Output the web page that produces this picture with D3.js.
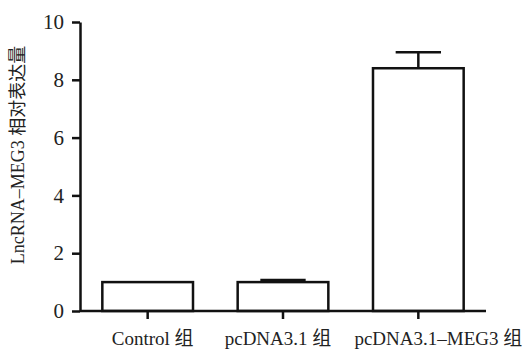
<!DOCTYPE html>
<html>
  <head>
    <meta charset="utf-8">
    <script type="text/javascript" src="https://cdn.jsdelivr.net/npm/d3@7"></script>
    <style>
      body { margin: 0; background: #fff; }
      text { font-family: "Liberation Serif", "Noto Sans CJK SC", serif; fill: #222; }
    </style>
  </head>
  <body>
    <div id="viz"></div>
    <script type="text/javascript">
      const groups = ["Control 组", "pcDNA3.1 组", "pcDNA3.1–MEG3 组"];
      const means = [1.0, 1.0, 8.4];
      const errors = [0, 0.07, 0.55];
      const yTicks = [0, 2, 4, 6, 8, 10];
      const yTitle = "LncRNA–MEG3 相对表达量";

      const width = 525;
      const height = 349;

      const svg = d3.select("#viz")
        .append("svg")
        .attr("width", width)
        .attr("height", height);

      const x = d3.scaleBand()
        .domain(groups)
        .range([80, 486])
        .paddingInner(0.33)
        .paddingOuter(0.165);

      const y = d3.scaleLinear()
        .domain([0, 10])
        .range([311, 22]);

      // bars
      svg.selectAll("rect.bar")
        .data(groups)
        .enter()
        .append("rect")
        .attr("class", "bar")
        .attr("x", d => x(d))
        .attr("y", (d, i) => y(means[i]))
        .attr("width", x.bandwidth())
        .attr("height", (d, i) => y(0) - y(means[i]))
        .style("fill", "#fff")
        .style("stroke", "#111")
        .style("stroke-width", 2.5);

      // error bars (upper only)
      const errTop = d => means[groups.indexOf(d)] + errors[groups.indexOf(d)];
      const err = svg.selectAll("g.err")
        .data(groups.filter((d, i) => errors[i] > 0))
        .enter()
        .append("g")
        .attr("class", "err");

      err.append("line")
        .attr("x1", d => x(d) + x.bandwidth() / 2)
        .attr("x2", d => x(d) + x.bandwidth() / 2)
        .attr("y1", d => y(means[groups.indexOf(d)]))
        .attr("y2", d => y(errTop(d)))
        .style("stroke", "#111")
        .style("stroke-width", 2.5);

      err.append("line")
        .attr("x1", d => x(d) + x.bandwidth() / 4)
        .attr("x2", d => x(d) + x.bandwidth() * 3 / 4)
        .attr("y1", d => y(errTop(d)))
        .attr("y2", d => y(errTop(d)))
        .style("stroke", "#111")
        .style("stroke-width", 2.5);

      // axes
      const yAxis = svg.append("g")
        .attr("transform", "translate(80,0)")
        .call(d3.axisLeft(y).tickValues(yTicks).tickSize(8).tickSizeOuter(0).tickPadding(8));

      const xAxis = svg.append("g")
        .attr("transform", "translate(0,311)")
        .call(d3.axisBottom(x).tickSize(8).tickSizeOuter(0).tickPadding(13));

      [yAxis, xAxis].forEach(a => {
        a.select(".domain").style("stroke", "#111").style("stroke-width", 2.5);
        a.selectAll(".tick line").style("stroke", "#111").style("stroke-width", 2.5);
      });
      yAxis.selectAll("text").style("font-size", "21px").style("font-family", "Liberation Serif");

      // labels in the original sit a little off their ticks
      const labelShift = [5, -5, 20];
      xAxis.selectAll(".tick text")
        .style("font-size", "19px")
        .attr("dx", (d, i) => labelShift[i]);
      xAxis.select(".domain").attr("d", "M80,0H486");

      svg.append("text")
        .attr("transform", "translate(24,155) rotate(-90)")
        .attr("text-anchor", "middle")
        .style("font-size", "18px")
        .text(yTitle);
    </script>
  </body>
</html>
